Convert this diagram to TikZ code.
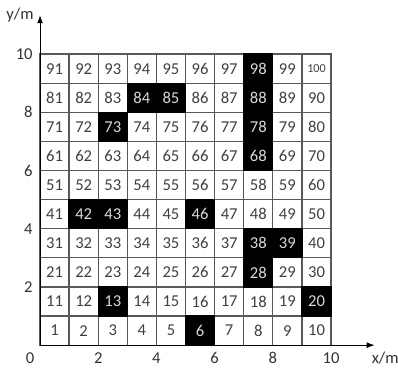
\documentclass[tikz,border=0pt]{standalone}
\usepackage{fontspec}
\setmainfont{Carlito}
\usetikzlibrary{arrows.meta}
\tikzset{
  cell/.style={draw=black!65, line width=1pt, minimum size=0.8cm, inner sep=0pt,
    font=\fontsize{13}{15}\selectfont, text=black!75},
  blocked/.style={fill=black, draw=black, text=white!85!black},
  axlabel/.style={font=\fontsize{13}{15}\selectfont, text=black!80, inner sep=1pt},
}
\begin{document}
\begin{tikzpicture}[x=0.8cm,y=0.8cm]
  \useasboundingbox (-1.375,-0.86) rectangle (12.3,11.86);
  % 栅格编号
  \foreach \n in {1,...,100}{
    \pgfmathtruncatemacro{\col}{mod(\n-1,10)}
    \pgfmathtruncatemacro{\row}{div(\n-1,10)}
    \ifnum\n=100
      \node[cell,font=\fontsize{9.5}{10}\selectfont] (c\n) at (\col+0.5,\row+0.5) {\n};
    \else
      \node[cell] (c\n) at (\col+0.5,\row+0.5) {\n};
    \fi
  }
  % 障碍栅格
  \foreach \n in {6,13,20,28,38,39,42,43,46,68,73,78,84,85,88,98}{
    \node[cell,blocked] (b\n) at (c\n) {\n};
  }
  % 坐标轴
  \coordinate (O) at (0,0);
  \coordinate (xend) at (11.5,0);
  \coordinate (yend) at (0,11.34);
  \draw[line width=0.8pt, -{Latex[length=2.2mm,width=1.6mm]}] (O) -- (xend);
  \draw[line width=0.8pt, -{Latex[length=2.2mm,width=1.6mm]}] (O) -- (yend);
  \node[axlabel] (xlab) at (11.86,-0.45) {x/m};
  \node[axlabel] (ylab) at (-0.69,11.34) {y/m};
  % 刻度
  \node[axlabel] (t0) at (-0.34,-0.45) {0};
  \foreach \x in {2,4,...,10}
    \node[axlabel] (tx\x) at (\x,-0.45) {\x};
  \foreach \y in {2,4,...,10}
    \node[axlabel, anchor=east] (ty\y) at (-0.2,\y) {\y};
\end{tikzpicture}
\end{document}
